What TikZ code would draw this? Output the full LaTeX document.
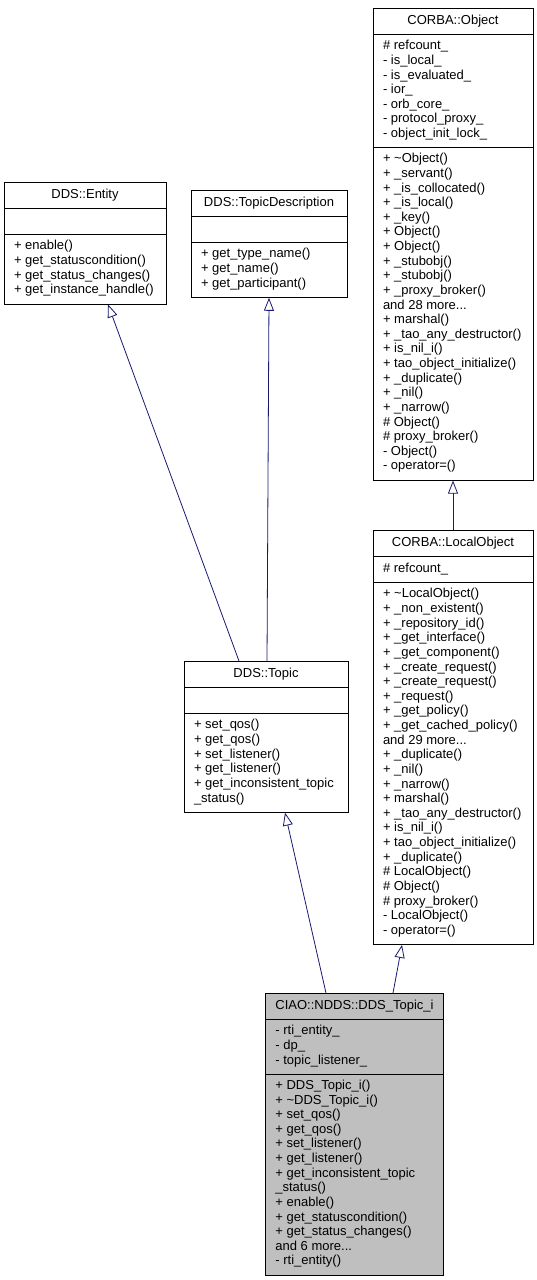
\documentclass[tikz,border=0pt]{standalone}
\usepackage{fontspec}
\setmainfont{Liberation Sans}
\usetikzlibrary{shapes.multipart,arrows.meta}
\definecolor{inhblue}{RGB}{25,25,112}
\definecolor{leafgray}{RGB}{191,191,191}
\tikzset{
  cls/.style={draw,line width=0.8pt,anchor=north,minimum width=#1,
    rectangle split,rectangle split parts=3,
    rectangle split part align={center,left,left},
    align=left,inner xsep=10pt,inner ysep=5.375pt,
    font=\fontsize{13}{14.625}\selectfont,
    execute at begin node=\strut,execute at end node=\strut},
  inh/.style={inhblue,line width=0.8pt,-{Triangle[open,length=13pt,width=10pt]}}
}
\begin{document}
\begin{tikzpicture}[x=1pt,y=-1pt]
  \useasboundingbox (0,0) rectangle (537,1280);
  \node[cls=162pt] (entity) at (85,182) {DDS::Entity\nodepart{two}\nodepart{three}+ enable()\\+ get\_statuscondition()\\+ get\_status\_changes()\\+ get\_instance\_handle()};
  \node[cls=156pt] (tdesc) at (269,190) {DDS::TopicDescription\nodepart{two}\nodepart{three}+ get\_type\_name()\\+ get\_name()\\+ get\_participant()};
  \node[cls=160pt] (obj) at (453,8) {CORBA::Object\nodepart{two}\# refcount\_\\- is\_local\_\\- is\_evaluated\_\\- ior\_\\- orb\_core\_\\- protocol\_proxy\_\\- object\_init\_lock\_\nodepart{three}+ \textasciitilde Object()\\+ \_servant()\\+ \_is\_collocated()\\+ \_is\_local()\\+ \_key()\\+ Object()\\+ Object()\\+ \_stubobj()\\+ \_stubobj()\\+ \_proxy\_broker()\\and 28 more...\\+ marshal()\\+ \_tao\_any\_destructor()\\+ is\_nil\_i()\\+ tao\_object\_initialize()\\+ \_duplicate()\\+ \_nil()\\+ \_narrow()\\\# Object()\\\# proxy\_broker()\\- Object()\\- operator=()};
  \node[cls=160pt] (lobj) at (453,530) {CORBA::LocalObject\nodepart{two}\# refcount\_\nodepart{three}+ \textasciitilde LocalObject()\\+ \_non\_existent()\\+ \_repository\_id()\\+ \_get\_interface()\\+ \_get\_component()\\+ \_create\_request()\\+ \_create\_request()\\+ \_request()\\+ \_get\_policy()\\+ \_get\_cached\_policy()\\and 29 more...\\+ \_duplicate()\\+ \_nil()\\+ \_narrow()\\+ marshal()\\+ \_tao\_any\_destructor()\\+ is\_nil\_i()\\+ tao\_object\_initialize()\\+ \_duplicate()\\\# LocalObject()\\\# Object()\\\# proxy\_broker()\\- LocalObject()\\- operator=()};
  \node[cls=164pt] (topic) at (266,661) {DDS::Topic\nodepart{two}\nodepart{three}+ set\_qos()\\+ get\_qos()\\+ set\_listener()\\+ get\_listener()\\+ get\_inconsistent\_topic\\\_status()};
  \node[cls=177pt,fill=leafgray] (ciao) at (354.5,993) {CIAO::NDDS::DDS\_Topic\_i\nodepart{two}- rti\_entity\_\\- dp\_\\- topic\_listener\_\nodepart{three}+ DDS\_Topic\_i()\\+ \textasciitilde DDS\_Topic\_i()\\+ set\_qos()\\+ get\_qos()\\+ set\_listener()\\+ get\_listener()\\+ get\_inconsistent\_topic\\\_status()\\+ enable()\\+ get\_statuscondition()\\+ get\_status\_changes()\\and 6 more...\\- rti\_entity()};
  \begin{scope}[inh]
    \draw ([xshift=-27pt]topic.north) to ([xshift=23pt]entity.south);
    \draw ([xshift=1pt]topic.north) to (tdesc.south);
    \draw (lobj.north) to (obj.south);
    \draw ([xshift=-28.5pt]ciao.north) to ([xshift=19pt]topic.south);
    \draw ([xshift=38.5pt]ciao.north) to ([xshift=-51pt]lobj.south);
  \end{scope}
\end{tikzpicture}
\end{document}
